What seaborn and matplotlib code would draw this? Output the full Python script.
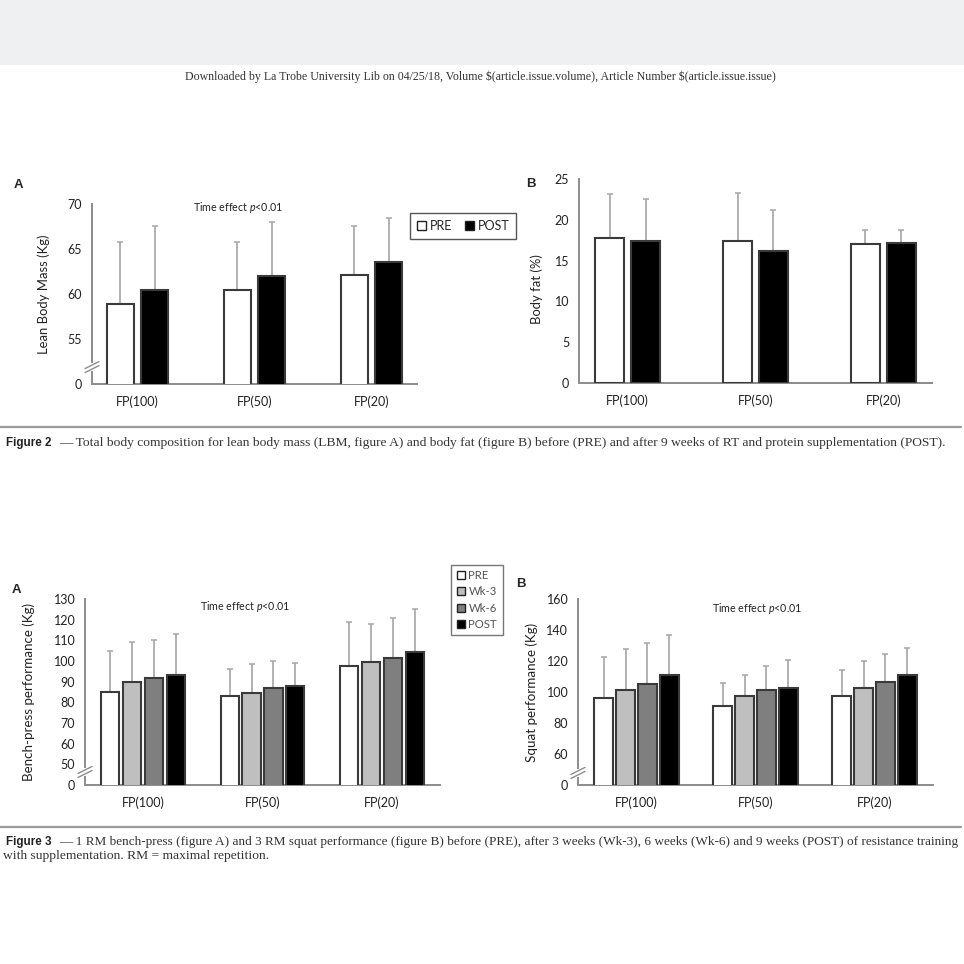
import numpy as np
import pandas as pd
import matplotlib
matplotlib.use('Agg')
import matplotlib.pyplot as plt
import seaborn as sns
from matplotlib.patches import Patch, Rectangle
from matplotlib.lines import Line2D

# categories and series
groups = ['FP(100)', 'FP(50)', 'FP(20)']
times2 = ['PRE', 'POST']
times3 = ['PRE', 'Wk-3', 'Wk-6', 'POST']

# Figure 2A - lean body mass (Kg), mean and SD
lbm_pre = [58.9, 60.4, 62.1]
lbm_post = [60.4, 62.0, 63.5]
lbm_pre_sd = [6.9, 5.4, 5.4]
lbm_post_sd = [7.1, 6.0, 4.9]

# Figure 2B - body fat (%)
fat_pre = [17.8, 17.4, 17.0]
fat_post = [17.4, 16.2, 17.1]
fat_pre_sd = [5.4, 5.9, 1.8]
fat_post_sd = [5.2, 5.0, 1.6]

# Figure 3A - bench press (Kg)
bench_pre = [85.2, 83.1, 97.4]
bench_wk3 = [89.7, 84.7, 99.4]
bench_wk6 = [91.6, 86.8, 101.3]
bench_post = [93.4, 87.7, 104.2]
bench_pre_sd = [19.6, 13.2, 21.5]
bench_wk3_sd = [19.5, 13.7, 18.7]
bench_wk6_sd = [18.4, 13.0, 19.5]
bench_post_sd = [19.7, 11.3, 21.1]

# Figure 3B - squat (Kg)
squat_pre = [96.3, 91.0, 97.4]
squat_wk3 = [101.3, 97.2, 102.8]
squat_wk6 = [104.9, 101.3, 106.5]
squat_post = [110.9, 102.8, 110.8]
squat_pre_sd = [26.5, 14.8, 16.6]
squat_wk3_sd = [26.4, 13.6, 17.0]
squat_wk6_sd = [26.9, 15.3, 18.0]
squat_post_sd = [25.7, 17.8, 17.4]

# axis ticks; the lowest tick sits at the axis break and reads "0"
lbm_ticks = [50, 55, 60, 65, 70]
lbm_ticklabels = ['0', '55', '60', '65', '70']
fat_ticks = [0, 5, 10, 15, 20, 25]
bench_ticks = [40, 50, 60, 70, 80, 90, 100, 110, 120, 130]
bench_ticklabels = ['0', '50', '60', '70', '80', '90', '100', '110', '120', '130']
squat_ticks = [40, 60, 80, 100, 120, 140, 160]
squat_ticklabels = ['0', '60', '80', '100', '120', '140', '160']

colors = {'PRE': 'white', 'Wk-3': '#bfbfbf', 'Wk-6': '#7f7f7f', 'POST': 'black'}

sns.set_theme(style='white')
plt.rcParams['font.family'] = ['Lato', 'DejaVu Sans']
plt.rcParams['mathtext.fontset'] = 'custom'
plt.rcParams['mathtext.it'] = 'Lato:italic'
plt.rcParams['mathtext.rm'] = 'Lato'

AXC = '#8c8c8c'
EDGE = '#3a3a3a'
TXT = '#222222'
SERIF = ['Liberation Serif', 'DejaVu Serif']
SANS = ['Liberation Sans', 'DejaVu Sans']


def long_df(series, times):
    rows = []
    for t, vals in zip(times, series):
        for g, v in zip(groups, vals):
            rows.append({'group': g, 'time': t, 'value': v})
    return pd.DataFrame(rows)


def draw_panel(ax, series, sds, times, width, gap):
    df = long_df(series, times)
    sns.barplot(data=df, x='group', y='value', hue='time', order=groups, hue_order=times,
                palette=colors, saturation=1, width=width, gap=gap, edgecolor=EDGE,
                linewidth=1.5, errorbar=None, legend=False, ax=ax, zorder=3)
    # upper SD whiskers
    for cont, sd in zip(ax.containers, sds):
        xs = [b.get_x() + b.get_width() / 2 for b in cont]
        ys = [b.get_height() for b in cont]
        ax.errorbar(xs, ys, yerr=[np.zeros(len(sd)), sd], fmt='none', ecolor='#ababab',
                    elinewidth=1.3, capsize=2.2, capthick=1.2, zorder=2)
    for s in ['top', 'right']:
        ax.spines[s].set_visible(False)
    for s in ['left', 'bottom']:
        ax.spines[s].set_color(AXC)
        ax.spines[s].set_linewidth(1.4)
    ax.tick_params(axis='both', length=0, labelsize=9, colors=TXT)
    ax.tick_params(axis='x', pad=8.5)
    ax.tick_params(axis='y', pad=7)
    ax.set_xlabel('')
    ax.set_facecolor('white')


def add_break(ax, yfrac, w_px, h_px):
    dx = 7.0 / w_px
    dy = 3.5 / h_px
    sep = 4.0 / h_px
    ax.plot([0, 0], [yfrac - sep / 2, yfrac + sep / 2], transform=ax.transAxes,
            color='white', lw=3, clip_on=False, zorder=5)
    for off in (-sep / 2, sep / 2):
        ax.plot([-dx, dx], [yfrac + off - dy, yfrac + off + dy], transform=ax.transAxes,
                color=AXC, lw=1.0, clip_on=False, zorder=6)


fig = plt.figure(figsize=(9.64, 9.64), dpi=100)
fig.patch.set_facecolor('white')
H = 964.0

# grey band at the top of the page
fig.patches.append(Rectangle((0, 1 - 65 / H), 1, 65 / H, transform=fig.transFigure,
                             facecolor='#eef0f2', edgecolor='none', zorder=0))
fig.text(480 / H, 1 - 77 / H,
         'Downloaded by La Trobe University Lib on 04/25/18, Volume $(article.issue.volume), '
         'Article Number $(article.issue.issue)',
         ha='center', va='center', fontsize=8.6, family=SERIF, color='#333333', parse_math=False)

# ---------- Figure 2 ----------
ax1 = fig.add_axes([92 / H, 1 - 384 / H, 325 / H, 180 / H])
draw_panel(ax1, [lbm_pre, lbm_post], [lbm_pre_sd, lbm_post_sd], times2, 0.59, 0.22)
ax1.set_ylim(50, 70)
ax1.set_yticks(lbm_ticks)
ax1.set_yticklabels(lbm_ticklabels)
ax1.set_ylabel('Lean Body Mass (Kg)', fontsize=9.4, color=TXT)
ax1.yaxis.set_label_coords(-0.13, 0.5)
add_break(ax1, 0.094, 325, 180)
ax1.text(0.45, 0.98, 'Time effect $p$<0.01', transform=ax1.transAxes, ha='center',
         va='center', fontsize=7.7, color=TXT)

ax2 = fig.add_axes([579 / H, 1 - 383 / H, 353 / H, 204 / H])
draw_panel(ax2, [fat_pre, fat_post], [fat_pre_sd, fat_post_sd], times2, 0.56, 0.18)
ax2.set_ylim(0, 25)
ax2.set_yticks(fat_ticks)
ax2.set_ylabel('Body fat (%)', fontsize=9.4, color=TXT)
ax2.yaxis.set_label_coords(-0.102, 0.46)

fig.text(18 / H, 1 - 185 / H, 'A', fontsize=9.5, fontweight='bold', ha='center', va='center',
         family=SANS)
fig.text(531 / H, 1 - 184 / H, 'B', fontsize=9.5, fontweight='bold', ha='center', va='center',
         family=SANS)

leg_handles2 = [Patch(facecolor=colors[t], edgecolor=TXT, linewidth=1.0) for t in times2]
fig.legend(leg_handles2, times2, loc='center', bbox_to_anchor=(463 / H, 1 - 226 / H), ncol=2,
           fontsize=9, frameon=True, fancybox=False, edgecolor='#555555', framealpha=1,
           handlelength=0.75, handleheight=0.75, handletextpad=0.3, columnspacing=1.0,
           borderpad=0.55)

fig.add_artist(Line2D([0, 0.997], [1 - 427 / H, 1 - 427 / H], color='#9a9a9a', lw=1.6))
fig.text(6 / H, 1 - 443 / H, 'Figure 2', fontsize=8.4, fontweight='bold', va='center',
         family=SANS, color=TXT)
fig.text(59 / H, 1 - 443 / H,
         '\u2014 Total body composition for lean body mass (LBM, figure A) and body fat (figure B) '
         'before (PRE) and after 9 weeks of RT and protein supplementation (POST).',
         fontsize=9.7, va='center', family=SERIF, color='#333333')

# ---------- Figure 3 ----------
ax3 = fig.add_axes([85 / H, 1 - 785 / H, 355 / H, 186 / H])
draw_panel(ax3, [bench_pre, bench_wk3, bench_wk6, bench_post],
           [bench_pre_sd, bench_wk3_sd, bench_wk6_sd, bench_post_sd], times3, 0.73, 0.16)
ax3.set_ylim(40, 130)
ax3.set_yticks(bench_ticks)
ax3.set_yticklabels(bench_ticklabels)
ax3.set_ylabel('Bench-press performance (Kg)', fontsize=9.6, color=TXT)
ax3.yaxis.set_label_coords(-0.141, 0.5)
add_break(ax3, 0.07, 355, 186)
ax3.text(0.45, 0.96, 'Time effect $p$<0.01', transform=ax3.transAxes, ha='center',
         va='center', fontsize=7.7, color=TXT)

ax4 = fig.add_axes([578 / H, 1 - 785 / H, 355 / H, 186 / H])
draw_panel(ax4, [squat_pre, squat_wk3, squat_wk6, squat_post],
           [squat_pre_sd, squat_wk3_sd, squat_wk6_sd, squat_post_sd], times3, 0.735, 0.13)
ax4.set_ylim(40, 160)
ax4.set_yticks(squat_ticks)
ax4.set_yticklabels(squat_ticklabels)
ax4.set_ylabel('Squat performance (Kg)', fontsize=9.6, color=TXT)
ax4.yaxis.set_label_coords(-0.113, 0.5)
add_break(ax4, 0.065, 355, 186)
ax4.text(0.505, 0.95, 'Time effect $p$<0.01', transform=ax4.transAxes, ha='center',
         va='center', fontsize=7.7, color=TXT)

fig.text(16 / H, 1 - 590 / H, 'A', fontsize=9.5, fontweight='bold', ha='center', va='center',
         family=SANS)
fig.text(521 / H, 1 - 584 / H, 'B', fontsize=9.5, fontweight='bold', ha='center', va='center',
         family=SANS)

leg_handles3 = [Patch(facecolor=colors[t], edgecolor=TXT, linewidth=1.0) for t in times3]
fig.legend(leg_handles3, times3, loc='center', bbox_to_anchor=(477 / H, 1 - 600 / H), ncol=1,
           fontsize=8.2, frameon=True, fancybox=False, edgecolor='#777777', framealpha=1,
           handlelength=0.7, handleheight=0.7, handletextpad=0.3, labelspacing=0.45,
           borderpad=0.5, labelcolor='#555555')

fig.add_artist(Line2D([0, 0.997], [1 - 827 / H, 1 - 827 / H], color='#9a9a9a', lw=1.6))
fig.text(6 / H, 1 - 842 / H, 'Figure 3', fontsize=8.4, fontweight='bold', va='center',
         family=SANS, color=TXT)
cap3 = fig.text(59 / H, 1 - 842 / H,
                '\u2014 1 RM bench-press (figure A) and 3 RM squat performance (figure B) before (PRE), '
                'after 3 weeks (Wk-3), 6 weeks (Wk-6) and 9 weeks (POST) of resistance training',
                fontsize=9.7, va='center', family=SERIF, color='#333333')
fig.text(3 / H, 1 - 856 / H, 'with supplementation. RM = maximal repetition.',
         fontsize=9.7, va='center', family=SERIF, color='#333333')

# the first caption line is set tighter on the page: shrink it to fit up to x=955
fig.canvas.draw()
w = cap3.get_window_extent(renderer=fig.canvas.get_renderer()).width
if w > 896:
    cap3.set_fontsize(9.7 * 896 / w)

fig.savefig('out.png', dpi=100, facecolor='white')
